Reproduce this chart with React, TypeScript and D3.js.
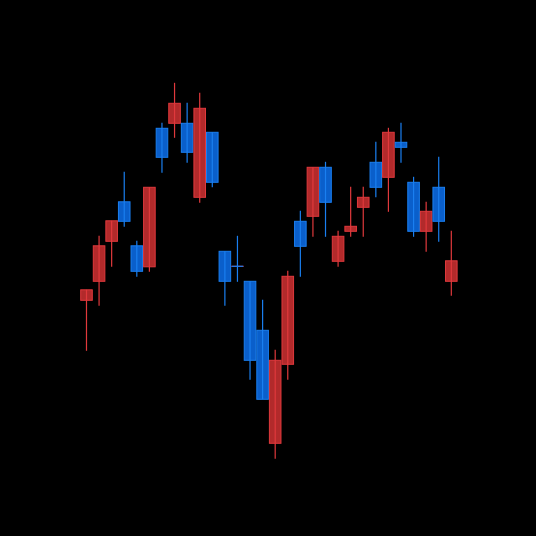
import { useEffect, useRef } from "react";
import * as d3 from "d3";

// candles, red = up, blue = down
const opens = [34.2, 38.0, 46.0, 53.9, 45.1, 40.9, 68.6, 69.6, 69.6, 54.8, 67.8, 44.0, 41.0, 38.0, 28.2, 5.6, 21.4, 50.0, 51.0, 60.8, 42.0, 48.0, 52.8, 61.8, 58.8, 65.8, 57.8, 48.0, 56.8, 38.0];
const closes = [36.3, 45.1, 50.1, 50.0, 40.0, 56.8, 62.8, 73.6, 63.8, 72.6, 57.8, 38.0, 41.0, 22.2, 14.4, 22.2, 39.0, 45.0, 60.8, 53.8, 47.0, 49.0, 54.8, 56.8, 67.8, 64.8, 48.0, 52.0, 50.0, 42.1];
const highs = [36.3, 47.1, 50.1, 59.9, 46.1, 56.8, 69.7, 77.7, 73.7, 75.7, 67.8, 44.0, 47.1, 38.0, 34.3, 24.3, 40.1, 52.1, 60.8, 61.9, 48.1, 56.9, 56.9, 65.9, 68.7, 69.7, 58.9, 53.9, 62.9, 48.1];
const lows = [24.1, 33.1, 40.9, 48.9, 38.9, 39.9, 59.7, 66.7, 61.7, 53.7, 56.8, 33.1, 37.9, 18.3, 14.4, 2.5, 18.3, 38.9, 46.9, 46.9, 40.9, 46.9, 46.9, 54.8, 51.9, 61.7, 46.9, 43.9, 45.9, 35.1];

const upFill = "#b22a2b";
const upStroke = "#e0393c";
const downFill = "#0a5fcb";
const downStroke = "#1a7ff0";

export default function App() {
    const ref = useRef<SVGSVGElement | null>(null);

    useEffect(() => {
        const width = 536;
        const height = 536;
        const data = opens.map((o, i) => ({ i, open: o, close: closes[i], high: highs[i], low: lows[i] }));

        const x = d3.scaleBand<number>()
            .domain(data.map((d) => d.i))
            .range([80.2, 457.6])
            .padding(0);

        const y = d3.scaleLinear().domain([0, 80]).range([471.3, 71.3]);

        const svg = d3.select(ref.current);
        svg.selectAll("*").remove();

        svg.append("rect").attr("width", width).attr("height", height).attr("fill", "#000");

        const bw = x.bandwidth();

        const g = svg.selectAll("g.candle")
            .data(data)
            .enter()
            .append("g")
            .attr("class", "candle");

        g.append("rect")
            .attr("x", (d) => (x(d.i) || 0) + 0.5)
            .attr("width", bw - 1)
            .attr("y", (d) => y(Math.max(d.open, d.close)))
            .attr("height", (d) => Math.max(0.01, Math.abs(y(d.open) - y(d.close))))
            .attr("fill", (d) => (d.close >= d.open ? upFill : downFill))
            .attr("stroke", (d) => (d.close >= d.open ? upStroke : downStroke))
            .attr("stroke-width", 1);

        // doji gets a plain line
        g.filter((d) => d.open === d.close)
            .append("line")
            .attr("x1", (d) => (x(d.i) || 0) + 0.5)
            .attr("x2", (d) => (x(d.i) || 0) + bw - 0.5)
            .attr("y1", (d) => y(d.open))
            .attr("y2", (d) => y(d.open))
            .attr("stroke", downStroke)
            .attr("stroke-width", 1.2);

        g.append("line")
            .attr("x1", (d) => (x(d.i) || 0) + bw / 2)
            .attr("x2", (d) => (x(d.i) || 0) + bw / 2)
            .attr("y1", (d) => y(d.high))
            .attr("y2", (d) => y(d.low))
            .attr("stroke", (d) => (d.close > d.open ? upStroke : downStroke))
            .attr("stroke-width", 1.2);
    }, []);

    return (
        <svg ref={ref} width={536} height={536} style={{ position: "absolute", left: 0, top: 0, display: "block" }}></svg>
    );
}
